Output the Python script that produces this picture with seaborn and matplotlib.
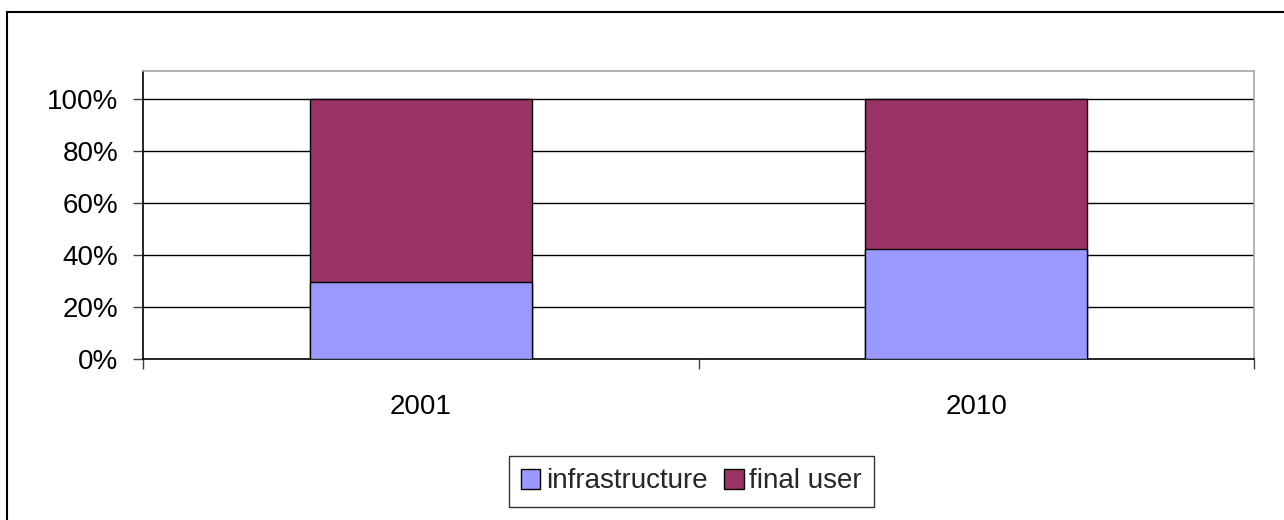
import pandas as pd
import seaborn as sns
import matplotlib.pyplot as plt
from matplotlib.patches import Patch, Rectangle

# datos del gráfico
years = ['2001', '2010']
infrastructure = [0.296, 0.425]
final_user = [0.704, 0.575]

df = pd.DataFrame({'year': years, 'infrastructure': infrastructure, 'final_user': final_user})
df['total'] = df['infrastructure'] + df['final_user']

col_infra = '#9999FF'
col_final = '#993366'

sns.set_theme(style='white')
plt.rcParams['font.family'] = ['Liberation Sans', 'DejaVu Sans']

fig = plt.figure(figsize=(12.84, 5.2), dpi=100)
ax = fig.add_axes([143 / 1284, 1 - 359.3 / 520, (1254 - 143) / 1284, (359.3 - 71) / 520])

# barras apiladas: total primero, luego infraestructura encima
sns.barplot(data=df, x='year', y='total', color=col_final, width=0.4,
            edgecolor='black', linewidth=1, saturation=1, ax=ax, zorder=3)
sns.barplot(data=df, x='year', y='infrastructure', color=col_infra, width=0.4,
            edgecolor='black', linewidth=1, saturation=1, ax=ax, zorder=4)

ax.set_xlim(-0.5, 1.5)
ax.set_ylim(0, 1.108)
ax.set_xlabel('')
ax.set_ylabel('')

# rejilla horizontal
ax.set_yticks([0, 0.2, 0.4, 0.6, 0.8, 1.0])
ax.set_yticklabels(['0%', '20%', '40%', '60%', '80%', '100%'], fontsize=20, color='black')
for yv in [0.2, 0.4, 0.6, 0.8, 1.0]:
    ax.axhline(yv, color='black', lw=1, zorder=1)

# marcas del eje x en los límites de categoría, etiquetas centradas
ax.set_xticks([-0.5, 0.5, 1.5])
ax.set_xticklabels(['', '', ''])
ax.set_xticks([0, 1], minor=True)
ax.set_xticklabels(years, minor=True, fontsize=20, color='black')
ax.tick_params(axis='x', which='major', direction='out', length=7, width=1, color='#404040', bottom=True)
ax.tick_params(axis='x', which='minor', length=0, pad=25)
ax.tick_params(axis='y', which='major', direction='out', length=7, width=1, color='#404040', left=True, pad=11)

for s in ['left', 'bottom']:
    ax.spines[s].set_color('black')
    ax.spines[s].set_linewidth(1.2)
for s in ['top', 'right']:
    ax.spines[s].set_visible(True)
    ax.spines[s].set_color('#a6a6a6')
    ax.spines[s].set_linewidth(1.2)

# leyenda
handles = [Patch(facecolor=col_infra, edgecolor='black', label='infrastructure'),
           Patch(facecolor=col_final, edgecolor='black', label='final user')]
leg = fig.legend(handles=handles, loc='center', bbox_to_anchor=(691.5 / 1284, 1 - 481.5 / 520),
                 ncol=2, fontsize=20, frameon=True, fancybox=False, handlelength=0.7,
                 handleheight=0.7, handletextpad=0.2, columnspacing=0.6, borderpad=0.45)
leg.get_frame().set_edgecolor('black')
leg.get_frame().set_linewidth(1)

# borde exterior de la figura (solo izquierda y arriba visibles)
fig.add_artist(Rectangle((7 / 1284, -0.5), 2, 0.5 + 1 - 12 / 520, transform=fig.transFigure,
                         fill=False, edgecolor='black', lw=1.5))

fig.savefig('out.png', dpi=100)
